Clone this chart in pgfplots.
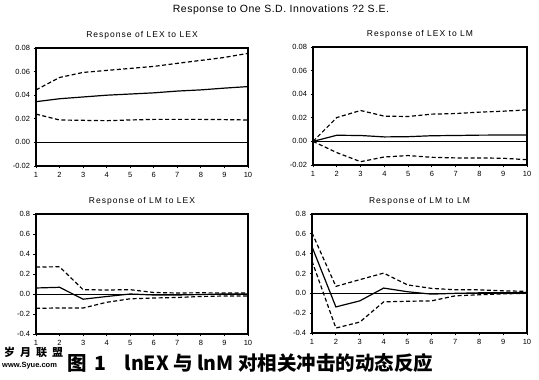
\documentclass[border=0pt]{standalone}
\usepackage{fontspec}
\setmainfont{Liberation Sans}
\newfontfamily\spaced{Liberation Sans}[LetterSpace=12]
\newfontfamily\spacedb{Liberation Sans}[LetterSpace=5]
\newfontfamily\cjk{Noto Sans CJK SC}
\usepackage{pgfplots}
\pgfplotsset{compat=1.18}
\pgfplotsset{irf/.style={
  scale only axis, anchor=south west,
  xmin=1, xmax=10, xtick={1,...,10},
  axis line style={line width=1.1pt},
  tick align=outside, major tick length=2.5pt,
  tick style={line width=0.8pt, black},
  xtick pos=bottom, ytick pos=left,
  scaled y ticks=false,
  tick label style={font=\fontsize{7.5}{8}\selectfont},
  /pgf/number format/assume math mode=true,
  yticklabel style={/pgf/number format/fixed,/pgf/number format/fixed zerofill},
  title style={font=\spaced\fontsize{8.5}{10}\selectfont, yshift=-1pt},
  every axis plot/.append style={black},
}, sol/.style={line width=1.2pt}, das/.style={line width=1.2pt, dash pattern=on 4pt off 2.5pt}}
\begin{document}
\begin{tikzpicture}
\useasboundingbox (0,0) rectangle (539pt,380pt);
\node[font=\spacedb\fontsize{10.5}{11}\selectfont] at (281pt,370pt) {Response to One S.D. Innovations ?2 S.E.};
% Panel 1
\begin{axis}[irf, at={(36pt,214pt)}, width=212pt, height=118pt,
  ymin=-0.02, ymax=0.08, ytick={-0.02,0,0.02,0.04,0.06,0.08},
  yticklabel style={/pgf/number format/precision=2},
  title={Response of LEX to LEX}]
\addplot[sol] coordinates {(1,0.0345)(2,0.037)(3,0.0385)(4,0.040)(5,0.041)(6,0.042)(7,0.0435)(8,0.0445)(9,0.046)(10,0.0473)};
\addplot[das] coordinates {(1,0.0445)(2,0.055)(3,0.0593)(4,0.061)(5,0.0627)(6,0.0644)(7,0.067)(8,0.0695)(9,0.072)(10,0.0755)};
\addplot[das] coordinates {(1,0.024)(2,0.019)(3,0.0187)(4,0.0184)(5,0.019)(6,0.0195)(7,0.0195)(8,0.0195)(9,0.0193)(10,0.019)};
\addplot[line width=1pt] coordinates {(1,0)(10,0)};
\end{axis}
% Panel 2
\begin{axis}[irf, at={(313pt,215pt)}, width=214pt, height=118pt,
  ymin=-0.02, ymax=0.08, ytick={-0.02,0,0.02,0.04,0.06,0.08},
  yticklabel style={/pgf/number format/precision=2},
  title={Response of LEX to LM}]
\addplot[sol] coordinates {(1,0)(2,0.0052)(3,0.005)(4,0.0038)(5,0.004)(6,0.0048)(7,0.005)(8,0.0053)(9,0.0054)(10,0.0055)};
\addplot[das] coordinates {(1,0)(2,0.0202)(3,0.0262)(4,0.0214)(5,0.0211)(6,0.0231)(7,0.0236)(8,0.0248)(9,0.0256)(10,0.0267)};
\addplot[das] coordinates {(1,0)(2,-0.0095)(3,-0.0172)(4,-0.0132)(5,-0.012)(6,-0.0135)(7,-0.014)(8,-0.014)(9,-0.0143)(10,-0.0155)};
\addplot[line width=0.6pt] coordinates {(1,0)(10,0)};
\end{axis}
% Panel 3
\begin{axis}[irf, at={(36pt,46pt)}, width=212pt, height=120pt,
  ymin=-0.4, ymax=0.8, ytick={-0.4,-0.2,0,0.2,0.4,0.6,0.8},
  yticklabel style={/pgf/number format/precision=1},
  title={Response of LM to LEX}]
\addplot[sol] coordinates {(1,0.06)(2,0.067)(3,-0.052)(4,-0.025)(5,0)(6,-0.01)(7,-0.01)(8,-0.005)(9,0)(10,0)};
\addplot[das] coordinates {(1,0.27)(2,0.272)(3,0.043)(4,0.04)(5,0.043)(6,0.015)(7,0.01)(8,0.012)(9,0.01)(10,0.01)};
\addplot[das] coordinates {(1,-0.143)(2,-0.14)(3,-0.14)(4,-0.083)(5,-0.048)(6,-0.04)(7,-0.035)(8,-0.025)(9,-0.02)(10,-0.02)};
\addplot[line width=0.6pt] coordinates {(1,0)(10,0)};
\end{axis}
% Panel 4
\begin{axis}[irf, at={(312pt,47pt)}, width=215pt, height=119pt,
  ymin=-0.4, ymax=0.8, ytick={-0.4,-0.2,0,0.2,0.4,0.6,0.8},
  yticklabel style={/pgf/number format/precision=1},
  title={Response of LM to LM}]
\addplot[sol] coordinates {(1,0.47)(2,-0.137)(3,-0.076)(4,0.053)(5,0.016)(6,-0.008)(7,0)(8,0.005)(9,0.005)(10,0.01)};
\addplot[das] coordinates {(1,0.61)(2,0.07)(3,0.138)(4,0.204)(5,0.085)(6,0.05)(7,0.036)(8,0.035)(9,0.025)(10,0.02)};
\addplot[das] coordinates {(1,0.325)(2,-0.35)(3,-0.29)(4,-0.086)(5,-0.08)(6,-0.076)(7,-0.025)(8,-0.015)(9,-0.005)(10,0)};
\addplot[line width=0.6pt] coordinates {(1,0)(10,0)};
\end{axis}
% caption
\node[anchor=west, inner sep=0pt, font=\cjk\bfseries\fontsize{19.5}{20}\selectfont] at (67pt,17pt) {图\hspace{8pt}1\hspace{18pt}lnEX 与 lnM 对相关冲击的动态反应};
\node[anchor=west, inner sep=0pt, font=\cjk\bfseries\fontsize{11}{12}\selectfont] at (4pt,28pt) {岁\hspace{5pt}月\hspace{5pt}联\hspace{5pt}盟};
\node[anchor=west, inner sep=0pt, font=\bfseries\fontsize{7.5}{8}\selectfont] at (2pt,14pt) {www.Syue.com};
\end{tikzpicture}
\end{document}
